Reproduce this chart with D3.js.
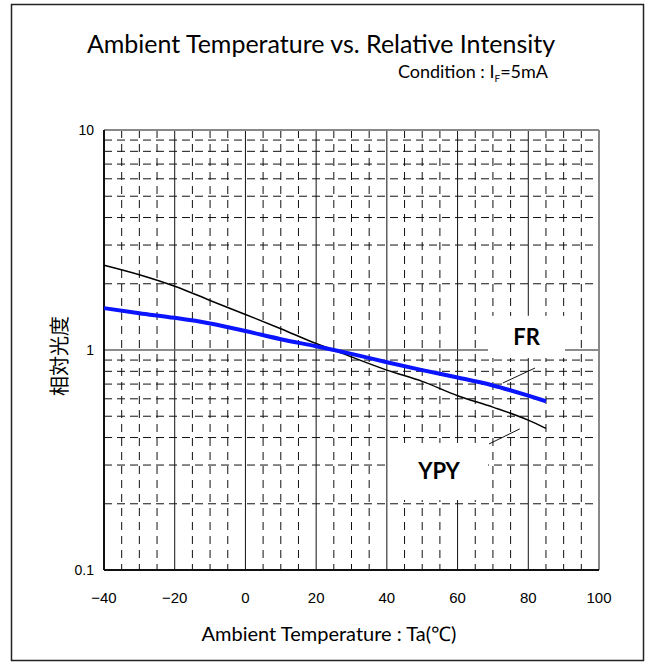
<!DOCTYPE html>
<html>
<head>
<meta charset="utf-8">
<script src="https://cdn.jsdelivr.net/npm/d3@7"></script>
<style>
  body { margin: 0; background: #fff; }
</style>
</head>
<body>
<div id="chart"></div>
<script>
  // data
  var temps = [-40, -30, -20, -10, 0, 10, 20, 25, 30, 40, 50, 60, 70, 80, 85];
  var ypy = [2.43, 2.2, 1.95, 1.68, 1.45, 1.25, 1.07, 1.0, 0.93, 0.81, 0.72, 0.62, 0.55, 0.48, 0.44];
  var fr = [1.55, 1.47, 1.40, 1.32, 1.22, 1.12, 1.04, 1.0, 0.96, 0.88, 0.81, 0.75, 0.69, 0.62, 0.585];
  var xTicks = [-40, -20, 0, 20, 40, 60, 80, 100];
  var yTicks = [0.1, 1, 10];

  var svg = d3.select("#chart")
      .append("svg")
      .attr("width", 651)
      .attr("height", 665);

  // outer frame
  svg.append("rect")
      .attr("x", 11.5).attr("y", 4.5)
      .attr("width", 632).attr("height", 656)
      .attr("fill", "none").attr("stroke", "#222").attr("stroke-width", 1.5);

  var x = d3.scaleLinear().domain([-40, 100]).range([104, 599]);
  var y = d3.scaleLog().domain([0.1, 10]).range([570, 130]);

  var g = svg.append("g");

  // minor dashed verticals every 5
  var minorX = d3.range(-35, 100, 5).filter(function (d) { return d % 20 !== 0; });
  g.selectAll(".vminor").data(minorX).enter().append("line")
      .attr("x1", function (d) { return x(d); }).attr("x2", function (d) { return x(d); })
      .attr("y1", y(10)).attr("y2", y(0.1))
      .attr("stroke", "#111").attr("stroke-width", 1)
      .attr("stroke-dasharray", "8,6");

  // minor dashed horizontals
  var minorY = [];
  [0.1, 1].forEach(function (base) {
      for (var k = 2; k <= 9; k++) minorY.push(base * k);
  });
  g.selectAll(".hminor").data(minorY).enter().append("line")
      .attr("x1", x(-40)).attr("x2", x(100))
      .attr("y1", function (d) { return y(d); }).attr("y2", function (d) { return y(d); })
      .attr("stroke", "#111").attr("stroke-width", 1)
      .attr("stroke-dasharray", "8,5");

  // major verticals
  g.selectAll(".vmajor").data(xTicks.slice(1, -1)).enter().append("line")
      .attr("x1", function (d) { return x(d); }).attr("x2", function (d) { return x(d); })
      .attr("y1", y(10)).attr("y2", y(0.1))
      .attr("stroke", "#111").attr("stroke-width", 1);

  // line at 1
  g.append("line")
      .attr("x1", x(-40)).attr("x2", x(100))
      .attr("y1", y(1)).attr("y2", y(1))
      .attr("stroke", "#666").attr("stroke-width", 1.5);

  // plot border: top and right grey, left and bottom black
  g.append("line").attr("x1", x(-40)).attr("x2", x(100)).attr("y1", y(10)).attr("y2", y(10))
      .attr("stroke", "#888").attr("stroke-width", 2);
  g.append("line").attr("x1", x(100)).attr("x2", x(100)).attr("y1", y(10)).attr("y2", y(0.1))
      .attr("stroke", "#888").attr("stroke-width", 2);
  g.append("line").attr("x1", x(-40)).attr("x2", x(-40)).attr("y1", y(10)).attr("y2", y(0.1))
      .attr("stroke", "#111").attr("stroke-width", 2);
  g.append("line").attr("x1", x(-40)).attr("x2", x(100)).attr("y1", y(0.1)).attr("y2", y(0.1))
      .attr("stroke", "#111").attr("stroke-width", 2);

  // label boxes covering the grid
  var boxes = [
      { name: "FR", x0: 68.6, x1: 90.4, y0: 1.43, y1: 0.92 },
      { name: "YPY", x0: 40.9, x1: 68.6, y0: 0.378, y1: 0.208 }
  ];
  svg.selectAll(".box").data(boxes).enter().append("rect")
      .attr("x", function (d) { return x(d.x0); })
      .attr("y", function (d) { return y(d.y0); })
      .attr("width", function (d) { return x(d.x1) - x(d.x0); })
      .attr("height", function (d) { return y(d.y1) - y(d.y0); })
      .attr("fill", "#fff");
  svg.selectAll(".boxlabel").data(boxes).enter().append("text")
      .attr("x", function (d) { return (x(d.x0) + x(d.x1)) / 2; })
      .attr("y", function (d) { return (y(d.y0) + y(d.y1)) / 2 + 8; })
      .attr("text-anchor", "middle")
      .style("font-family", "Lato, 'Open Sans', sans-serif")
      .style("font-weight", "bold")
      .style("font-size", "22px")
      .text(function (d) { return d.name; });

  // leader lines
  var leaders = [
      { t0: 72.8, v0: 0.708, t1: 81.9, v1: 0.828 },
      { t0: 68.9, v0: 0.374, t1: 77.6, v1: 0.438 }
  ];
  svg.selectAll(".leader").data(leaders).enter().append("line")
      .attr("x1", function (d) { return x(d.t0); }).attr("y1", function (d) { return y(d.v0); })
      .attr("x2", function (d) { return x(d.t1); }).attr("y2", function (d) { return y(d.v1); })
      .attr("stroke", "#111").attr("stroke-width", 1);

  // curves
  var line = d3.line()
      .x(function (d) { return x(d[0]); })
      .y(function (d) { return y(d[1]); })
      .curve(d3.curveMonotoneX);

  svg.append("path")
      .datum(d3.zip(temps, ypy))
      .attr("d", line)
      .attr("fill", "none").attr("stroke", "#000").attr("stroke-width", 1.5);

  svg.append("path")
      .datum(d3.zip(temps, fr))
      .attr("d", line)
      .attr("fill", "none").attr("stroke", "#0a14ff").attr("stroke-width", 4);

  // tick labels
  svg.selectAll(".xt").data(xTicks).enter().append("text")
      .attr("x", function (d) { return x(d); })
      .attr("y", 603)
      .attr("text-anchor", "middle")
      .style("font-family", "'Liberation Sans', Arial, sans-serif")
      .style("font-size", "15px")
      .text(function (d) { return d < 0 ? "\u2212" + Math.abs(d) : d; });

  svg.selectAll(".yt").data(yTicks).enter().append("text")
      .attr("x", 94)
      .attr("y", function (d) { return y(d) + 5; })
      .attr("text-anchor", "end")
      .style("font-family", "'Liberation Sans', Arial, sans-serif")
      .style("font-size", "14px")
      .text(function (d) { return d; });

  // titles
  svg.append("text")
      .attr("x", 321).attr("y", 53)
      .attr("text-anchor", "middle")
      .style("font-family", "Lato, 'Open Sans', sans-serif")
      .style("font-size", "25px")
      .text("Ambient Temperature vs. Relative Intensity");

  var cond = svg.append("text")
      .attr("x", 548).attr("y", 78)
      .attr("text-anchor", "end")
      .style("font-family", "Lato, 'Open Sans', sans-serif")
      .style("font-size", "18px");
  cond.append("tspan").text("Condition : I");
  cond.append("tspan").attr("dy", 4).style("font-size", "10px").text("F");
  cond.append("tspan").attr("dy", -4).text("=5mA");

  svg.append("text")
      .attr("x", 329).attr("y", 641)
      .attr("text-anchor", "middle")
      .style("font-family", "Lato, 'Open Sans', sans-serif")
      .style("font-size", "20px")
      .text("Ambient Temperature : Ta(\u2103)");

  svg.append("text")
      .attr("transform", "translate(67,356) rotate(-90)")
      .attr("text-anchor", "middle")
      .style("font-family", "'Noto Sans CJK JP', sans-serif")
      .style("font-size", "20px")
      .text("相対光度");
</script>
</body>
</html>
